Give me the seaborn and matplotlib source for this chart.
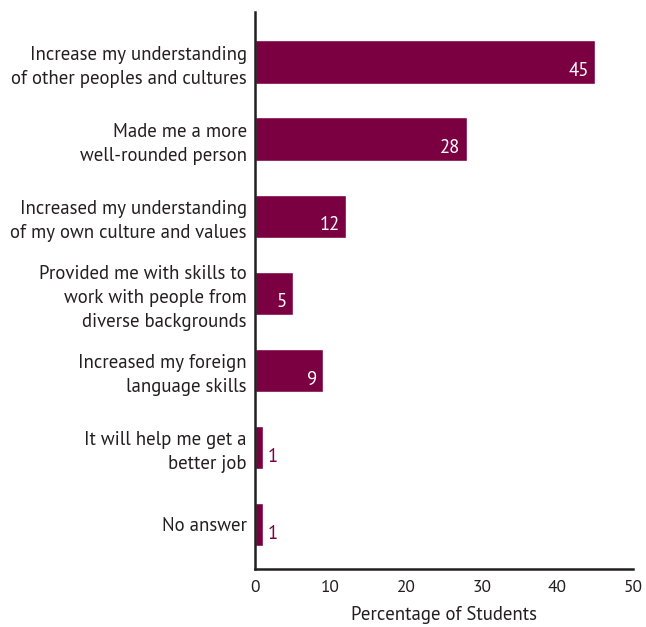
import matplotlib
matplotlib.use("Agg")
import matplotlib.pyplot as plt
import seaborn as sns
import pandas as pd

categories = [
    "Increase my understanding\nof other peoples and cultures",
    "Made me a more\nwell-rounded person",
    "Increased my understanding\nof my own culture and values",
    "Provided me with skills to\nwork with people from\ndiverse backgrounds",
    "Increased my foreign\nlanguage skills",
    "It will help me get a\nbetter job",
    "No answer",
]
values = [45, 28, 12, 5, 9, 1, 1]
x_ticks = [0, 10, 20, 30, 40, 50]
x_label = "Percentage of Students"

bar_color = "#7b0041"
text_color = "#231f20"

sns.set_theme(style="white")
plt.rcParams["font.family"] = ["PT Sans", "Open Sans", "DejaVu Sans"]

df = pd.DataFrame({"category": categories, "value": values})

fig = plt.figure(figsize=(6.46, 6.27), dpi=100)
ax = fig.add_axes([0.3947, 0.0925, 0.5853, 0.8885])

sns.barplot(data=df, x="value", y="category", orient="h", color=bar_color,
            saturation=1, width=0.56, ax=ax)

ax.set_xlim(0, 50)
ax.set_ylim(6.58, -0.65)
ax.set_xticks(x_ticks)
ax.set_xticklabels([str(t) for t in x_ticks], fontsize=12.5, color=text_color)
ax.set_xlabel(x_label, fontsize=13.5, color=text_color, labelpad=7)
ax.set_ylabel("")
ax.tick_params(axis="y", length=0, pad=6, labelsize=13.5, labelcolor=text_color)
ax.tick_params(axis="x", direction="in", length=11, width=1.8, color=text_color, pad=8)
for lbl in ax.get_yticklabels():
    lbl.set_horizontalalignment("right")
    lbl.set_multialignment("right")
    lbl.set_linespacing(1.42)

for side in ("top", "right"):
    ax.spines[side].set_visible(False)
for side in ("left", "bottom"):
    ax.spines[side].set_color(text_color)
    ax.spines[side].set_linewidth(1.8)

for bar, v in zip(ax.patches, values):
    y = bar.get_y() + bar.get_height() / 2 + 0.12
    if v >= 3:
        ax.annotate(str(v), (v, y), xytext=(-4.5, 0), textcoords="offset points",
                    ha="right", va="center", color="white", fontsize=13.5)
    else:
        ax.annotate(str(v), (v, y), xytext=(3.5, 0), textcoords="offset points",
                    ha="left", va="center", color=bar_color, fontsize=13.5)

fig.savefig("out.png", dpi=100)
